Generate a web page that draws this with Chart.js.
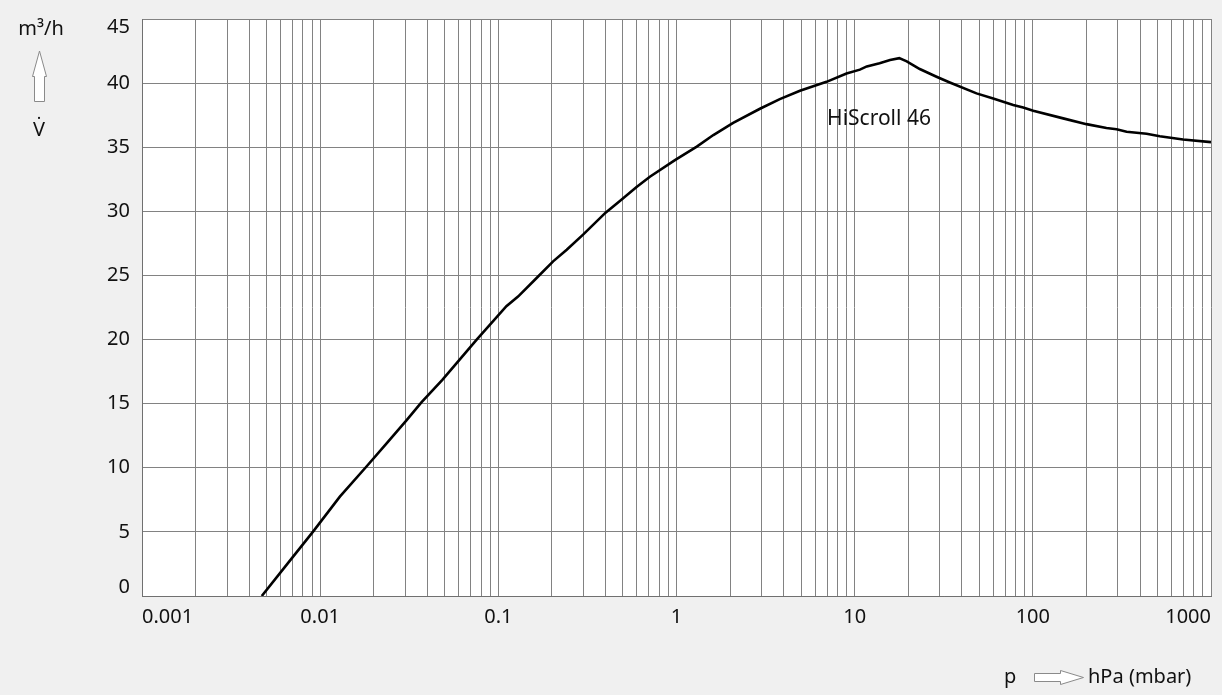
<!DOCTYPE html>
<html><head><meta charset="utf-8">
<script src="https://cdn.jsdelivr.net/npm/chart.js@4/dist/chart.umd.min.js"></script>
<style>html,body{margin:0;padding:0;background:#f0f0f0;overflow:hidden}#wrap{width:1222px;height:695px;position:relative}</style>
</head><body><div id="wrap"><canvas id="c" width="1222" height="695"></canvas></div>
<script>
// ---- data ----
const pressure = [0.0047,0.0068,0.0091,0.0129,0.0182,0.0236,0.0305,0.0370,0.0485,0.0756,0.111,0.129,0.164,0.203,0.242,0.300,0.400,0.481,0.597,0.709,0.98,1.30,1.61,2.08,2.94,3.80,4.93,6.95,9.0,10.7,11.7,13.8,15.8,17.8,19.6,23.2,28.8,34.2,48.3,59.9,77.6,88.3,100.5,148,200,259,295,336,435,516,697,1000];
const flow     = [0,2.8,5.0,7.75,10.1,11.9,13.7,15.1,16.85,20.0,22.6,23.35,24.8,26.1,27.0,28.2,29.9,30.8,31.9,32.7,34.0,35.05,35.95,36.9,38.0,38.75,39.4,40.1,40.75,41.05,41.3,41.55,41.8,41.95,41.7,41.1,40.5,40.05,39.2,38.8,38.3,38.1,37.85,37.25,36.8,36.5,36.4,36.2,36.05,35.85,35.6,35.4];
const xTickValues = [0.001,0.01,0.1,1,10,100,1000];
const xTickLabels = ['0.001','0.01','0.1','1','10','100','1000'];
const yTickValues = [0,5,10,15,20,25,30,35,40,45];
const yTickLabels = ['0','5','10','15','20','25','30','35','40','45'];
const seriesLabel = 'HiScroll 46';
const seriesLabelAnchor = {x: 7.0, y: 36.7};
const yUnit = 'm³/h';
const ySymbol = 'V̇';
const xSymbol = 'p';
const xUnit = 'hPa (mbar)';

const FONT = '"Noto Sans", "Open Sans", sans-serif';
const TXT = '#111111';
const GRID = '#828282';

const minorValues = [];
for (let i = 0; i < xTickValues.length - 1; i++) {
  for (let m = 1; m <= 9; m++) minorValues.push(m * xTickValues[i]);
}
minorValues.push(xTickValues[xTickValues.length - 1]);

function majorLabel(v) {
  for (let i = 0; i < xTickValues.length; i++) {
    if (Math.abs(v - xTickValues[i]) / xTickValues[i] < 1e-6) return xTickLabels[i];
  }
  return '';
}

const decor = {
  id: 'decor',
  beforeDraw(chart) {
    const ctx = chart.ctx, a = chart.chartArea;
    ctx.save();
    ctx.fillStyle = '#f0f0f0';
    ctx.fillRect(0, 0, chart.width, chart.height);
    ctx.fillStyle = '#ffffff';
    ctx.fillRect(a.left, a.top, a.right - a.left, a.bottom - a.top);
    ctx.restore();
  },
  afterDraw(chart) {
    const ctx = chart.ctx, ys = chart.scales.y, xs = chart.scales.x;
    ctx.save();
    ctx.fillStyle = TXT;
    ctx.font = '20px ' + FONT;
    // y tick labels (inner aligned)
    ctx.textAlign = 'right';
    ctx.textBaseline = 'middle';
    yTickValues.forEach((v, i) => {
      let y = ys.getPixelForValue(v);
      if (i === 0) y -= 9;
      if (i === yTickValues.length - 1) y += 8;
      ctx.fillText(yTickLabels[i], 130, y);
    });
    // y unit
    ctx.textAlign = 'center';
    ctx.textBaseline = 'alphabetic';
    ctx.fillText(yUnit, 41, 35);
    ctx.fillText(ySymbol, 39, 136);
    // vertical arrow
    ctx.fillStyle = '#ffffff';
    ctx.strokeStyle = '#8a8a8a';
    ctx.lineWidth = 1;
    ctx.beginPath();
    ctx.moveTo(39.5, 51);
    ctx.lineTo(46.5, 76.5);
    ctx.lineTo(44.5, 76.5);
    ctx.lineTo(44.5, 101.5);
    ctx.lineTo(34.5, 101.5);
    ctx.lineTo(34.5, 76.5);
    ctx.lineTo(32.5, 76.5);
    ctx.closePath();
    ctx.fill(); ctx.stroke();
    // horizontal arrow
    ctx.beginPath();
    ctx.moveTo(1034.5, 673.5);
    ctx.lineTo(1060.5, 673.5);
    ctx.lineTo(1060.5, 670.5);
    ctx.lineTo(1083.5, 677.5);
    ctx.lineTo(1060.5, 684.5);
    ctx.lineTo(1060.5, 681.5);
    ctx.lineTo(1034.5, 681.5);
    ctx.closePath();
    ctx.fill(); ctx.stroke();
    // x axis title
    ctx.fillStyle = TXT;
    ctx.textAlign = 'left';
    ctx.fillText(xSymbol, 1004, 683);
    ctx.fillText(xUnit, 1088, 683);
    // series label
    ctx.font = '21px ' + FONT;
    ctx.fillText(seriesLabel, xs.getPixelForValue(seriesLabelAnchor.x), ys.getPixelForValue(seriesLabelAnchor.y));
    ctx.restore();
  }
};

new Chart(document.getElementById('c'), {
  type: 'scatter',
  data: {
    datasets: [{
      label: seriesLabel,
      data: pressure.map((p, i) => ({x: p, y: flow[i]})),
      showLine: true,
      borderColor: '#000000',
      borderWidth: 2.6,
      pointRadius: 0,
      tension: 0
    }]
  },
  options: {
    responsive: false,
    animation: false,
    devicePixelRatio: 1,
    layout: {padding: {left: 0, right: 11, top: 19, bottom: 0}},
    plugins: {legend: {display: false}, tooltip: {enabled: false}},
    scales: {
      x: {
        type: 'logarithmic',
        min: xTickValues[0],
        max: xTickValues[xTickValues.length - 1],
        position: 'bottom',
        afterBuildTicks: s => { s.ticks = minorValues.map(v => ({value: v})); },
        afterFit: s => { s.height = 99; },
        ticks: {
          autoSkip: false, maxRotation: 0, minRotation: 0, align: 'inner',
          padding: 9, color: TXT, font: {family: FONT, size: 20},
          callback: v => majorLabel(v)
        },
        grid: {color: GRID, lineWidth: 1, drawTicks: false},
        border: {display: true, color: '#707070', width: 1}
      },
      y: {
        min: yTickValues[0],
        max: yTickValues[yTickValues.length - 1],
        afterBuildTicks: s => { s.ticks = yTickValues.map(v => ({value: v})); },
        afterFit: s => { s.width = 142; },
        ticks: {display: false},
        grid: {color: GRID, lineWidth: 1, drawTicks: false},
        border: {display: true, color: '#707070', width: 1}
      }
    }
  },
  plugins: [decor]
});
</script></body></html>
